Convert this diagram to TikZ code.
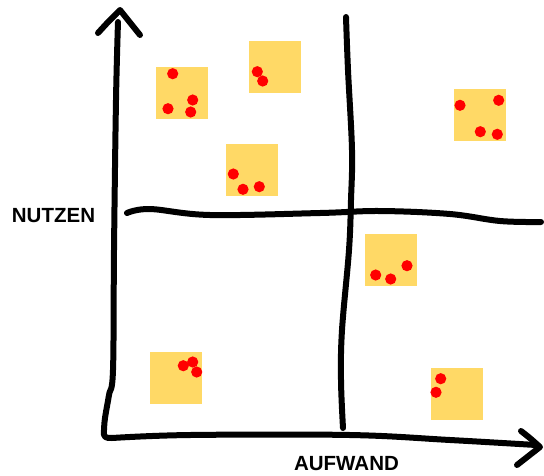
\documentclass[tikz,border=0pt]{standalone}
\usepackage{fontspec}
\setmainfont{Liberation Sans}
\definecolor{stickyyellow}{HTML}{FFD966}
\definecolor{dotred}{HTML}{FF0000}
\begin{document}
\begin{tikzpicture}[x=1pt,y=-1pt,
  sticky/.style={fill=stickyyellow,minimum size=52pt,inner sep=0pt,draw=none},
  dotmark/.style={fill=dotred,draw=none},
  pen/.style={line width=6pt,line cap=round,line join=round,black},
  axislabel/.style={font=\fontsize{20.5}{22}\selectfont\bfseries,inner sep=0pt}]
\useasboundingbox (0,0) rectangle (544,475);
% sticky notes
\node[sticky] (s1) at (182,92.5) {};
\node[sticky] (s2) at (274.5,66.5) {};
\node[sticky] (s3) at (252,170) {};
\node[sticky] (s4) at (480,114.7) {};
\node[sticky] (s5) at (391,260) {};
\node[sticky] (s6) at (176,377.5) {};
\node[sticky] (s7) at (457,394) {};
% dots
\foreach \p in {(172.7,73.7),(192.7,100),(168,108.7),(190.7,112),
                (257.3,71.7),(262.7,81),
                (233.3,174),(243,189.3),(259.3,186.7),
                (460,105.3),(498.7,100.3),(480.3,131.7),(497.3,134.3),
                (375.7,275),(390.7,279),(407,265.7),
                (183.3,365.7),(192.7,362),(196.7,372),
                (440.7,378.7),(436,392.3)}
  \fill[dotmark] \p circle[radius=5.6pt];
% axes
\coordinate (ytop) at (118,22);
\coordinate (xend) at (536,445);
\draw[pen] plot[smooth,tension=0.6] coordinates {(118,22) (116,100) (114,250) (113,370) (109,395) (105,418) (104,430)}
  .. controls (103,438) and (106,438) .. (112,438)
  plot[smooth,tension=0.6] coordinates {(112,438) (190,435) (350,435) (450,440) (536,445)};
\draw[pen] (98,33) .. controls (108,22) .. (120,10) .. controls (130,22) .. (140,35);
\draw[pen] (521,431) .. controls (530,438) .. (540,447) .. controls (528,456) .. (517,465);
% quadrant lines
\draw[pen] plot[smooth,tension=0.6] coordinates {(346,17) (348,70) (352,150) (351,200) (349,250) (342,330) (341,380) (343,428)};
\draw[pen] plot[smooth,tension=0.6] coordinates {(127,213) (150,209) (210,215) (320,213) (380,211) (450,214) (500,221) (541,222)};
% labels
\node[axislabel] (nutzen) at (53.5,216) {NUTZEN};
\node[axislabel] (aufwand) at (346.5,463.5) {AUFWAND};
\end{tikzpicture}
\end{document}
